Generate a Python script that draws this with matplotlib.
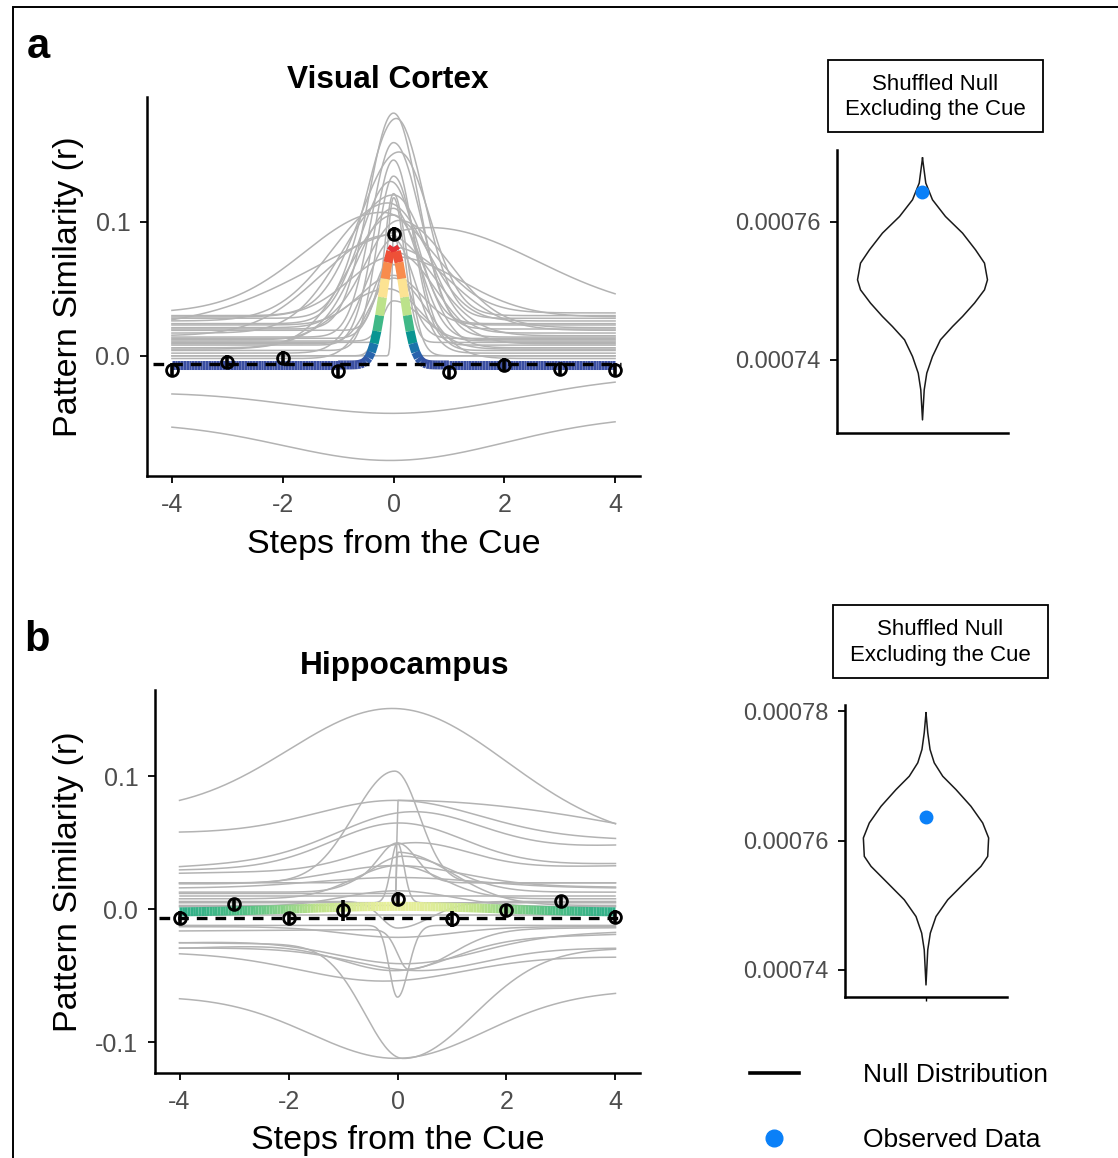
import numpy as np
import matplotlib
matplotlib.use("Agg")
import matplotlib.pyplot as plt
from matplotlib.collections import LineCollection
from matplotlib.colors import LinearSegmentedColormap, Normalize
from matplotlib.patches import Rectangle
from matplotlib.lines import Line2D
from matplotlib.ticker import FormatStrFormatter

plt.rcParams["font.family"] = ["Liberation Sans", "DejaVu Sans"]
plt.rcParams["axes.unicode_minus"] = False

# ---- data ----
steps = [-4, -3, -2, -1, 0, 1, 2, 3, 4]

vc_mean = [-0.0104, -0.0043, -0.0017, -0.0112, 0.0908, -0.0124, -0.0067, -0.0099, -0.0104]
vc_err = [0.005, 0.005, 0.005, 0.004, 0.005, 0.005, 0.005, 0.004, 0.005]
vc_null_level = -0.0062

hc_mean = [-0.0063, 0.0038, -0.0063, -0.0008, 0.0081, -0.0070, -0.0008, 0.0060, -0.0058]
hc_err = [0.005, 0.004, 0.004, 0.008, 0.005, 0.006, 0.004, 0.004, 0.005]
hc_null_level = -0.0063

# group fits: base, slope, amplitude, centre, width left, width right
vc_group_fit = [-0.0068, 0.0, 0.0878, 0.0, 0.19, 0.19]
hc_group_fit = [-0.0022, 0.0, 0.0045, 0.0, 1.8, 1.8]

# single-subject fits (same parameters)
vc_subject_fits = [
    [0.020, 0.0, 0.161, 0.00, 0.45, 0.45],
    [0.028, 0.0, 0.149, 0.05, 0.55, 0.50],
    [0.014, 0.0, 0.145, 0.00, 0.40, 0.50],
    [0.030, 0.0, 0.122, 0.10, 0.70, 0.55],
    [0.008, 0.0, 0.138, 0.00, 0.35, 0.35],
    [0.004, 0.0, 0.130, 0.00, 0.30, 0.40],
    [0.024, 0.0, 0.106, -0.05, 0.55, 0.45],
    [0.000, 0.0, 0.121, 0.00, 0.18, 0.25],
    [0.017, 0.0, 0.103, 0.00, 0.90, 0.60],
    [0.010, 0.0, 0.108, 0.00, 0.12, 0.20],
    [0.026, 0.0, 0.088, -0.10, 1.00, 0.70],
    [0.012, 0.0, 0.098, 0.00, 0.65, 0.45],
    [0.032, 0.0, 0.075, -0.20, 1.40, 0.90],
    [0.006, 0.0, 0.099, 0.00, 0.80, 0.55],
    [0.021, 0.0, 0.080, 0.10, 0.60, 0.90],
    [0.026, 0.001, 0.069, 0.60, 2.00, 2.00],
    [0.015, 0.0, 0.075, -0.10, 1.20, 0.80],
    [0.002, 0.0, 0.085, 0.00, 0.50, 0.40],
    [0.019, 0.0, 0.062, 0.00, 0.25, 1.00],
    [0.009, 0.0, 0.068, 0.05, 0.40, 0.70],
    [0.029, 0.0, 0.045, 0.00, 0.80, 1.20],
    [0.013, 0.0, 0.055, 0.00, 0.30, 0.30],
    [-0.002, 0.0, 0.060, 0.00, 0.45, 0.60],
    [0.023, 0.0, 0.037, 0.00, 0.60, 0.50],
    [0.005, 0.0, 0.045, -0.10, 0.90, 0.60],
    [0.011, 0.0, 0.030, 0.00, 0.20, 0.50],
    [0.000, 0.0, 0.093, 0.00, 0.03, 0.15],
    [-0.021, 0.00125, -0.022, 0.20, 2.00, 2.00],
    [-0.047, 0.0005, -0.031, 0.00, 2.00, 2.00],
]

hc_subject_fits = [
    [0.061, -0.0022, 0.090, 0.00, 2.00, 2.00],
    [0.020, 0.0, 0.084, -0.05, 0.75, 0.45],
    [0.012, 0.0, 0.070, 0.00, 0.01, 5.30],
    [0.055, -0.0006, 0.027, 0.00, 1.50, 1.50],
    [0.040, 0.002, 0.033, 0.20, 1.30, 1.30],
    [0.032, 0.0006, 0.033, 0.00, 1.20, 1.20],
    [0.030, 0.0007, 0.020, 0.30, 1.00, 1.00],
    [0.020, 0.0, 0.030, 0.00, 0.35, 0.35],
    [0.013, 0.0, 0.027, 0.10, 0.60, 0.90],
    [0.005, 0.0, 0.045, 0.00, 0.12, 0.12],
    [0.008, 0.0, 0.025, 0.00, 0.80, 0.80],
    [0.016, 0.0, 0.008, 0.00, 1.50, 1.50],
    [0.010, 0.0, 0.000, 0.00, 1.00, 1.00],
    [0.002, 0.0, 0.012, 0.00, 1.00, 1.00],
    [0.006, 0.0, -0.020, 0.00, 0.30, 0.60],
    [-0.021, 0.001, -0.020, 0.20, 1.30, 1.30],
    [-0.024, 0.0013, -0.022, 0.00, 1.00, 1.00],
    [-0.029, 0.0, -0.017, 0.40, 1.20, 1.20],
    [-0.034, -0.0004, -0.020, -0.30, 1.50, 1.50],
    [-0.012, 0.0, -0.054, 0.00, 0.15, 0.20],
    [-0.063, 0.0005, -0.049, 0.00, 1.60, 1.60],
    [-0.027, -0.0005, -0.085, 0.10, 0.70, 1.30],
    [-0.015, 0.0003, -0.030, 0.20, 0.20, 0.80],
    [0.003, 0.0, 0.040, 0.00, 0.02, 1.00],
    [-0.004, 0.0, 0.000, 0.00, 1.00, 1.00],
    [-0.013, 0.0, -0.008, 0.00, 1.00, 1.00],
    [0.018, -0.0003, 0.015, 0.00, 1.20, 1.20],
]

# shuffled null violins: value, half width (x units)
vc_null_y = [0.00076923, 0.00076561, 0.00076319, 0.00076077, 0.00075836, 0.00075594,
             0.00075401, 0.00075159, 0.00075014, 0.00074822, 0.00074628, 0.00074483,
             0.00074290, 0.00074048, 0.00073807, 0.00073565, 0.00073130]
vc_null_hw = [0.0, 0.023, 0.070, 0.161, 0.281, 0.372, 0.435, 0.456, 0.435, 0.365,
              0.281, 0.211, 0.126, 0.070, 0.030, 0.012, 0.0]
vc_observed = 0.0007643

hc_null_y = [0.00077980, 0.00077670, 0.00077411, 0.00077205, 0.00076997, 0.00076791,
             0.00076532, 0.00076274, 0.00076042, 0.00075757, 0.00075602, 0.00075344,
             0.00075085, 0.00074826, 0.00074569, 0.00074310, 0.00073767]
hc_null_hw = [0.0, 0.013, 0.030, 0.061, 0.124, 0.222, 0.333, 0.420, 0.464, 0.457,
              0.407, 0.284, 0.161, 0.074, 0.032, 0.013, 0.0]
hc_observed = 0.0007636

W, H = 1118, 1158
gray = "#B3B3B3"
blue = "#0A80F8"
tick_gray = "#4D4D4D"
fit_cmap = LinearSegmentedColormap.from_list(
    "fit", ["#3B4FA2", "#1F6DB1", "#069A8E", "#4DBE85", "#BEE38B",
            "#FCF5A4", "#FBA95B", "#F4663A", "#E32A33"])


def px_box(left, top, right, bottom):
    return [left / W, 1 - bottom / H, (right - left) / W, (bottom - top) / H]


def fit_curve(x, base, slope, amp, mu, wl, wr):
    w = np.where(x < mu, wl, wr)
    return base + slope * x + amp * np.exp(-(x - mu) ** 2 / (2 * w ** 2))


def style_axes(ax, ticksize):
    for side in ["top", "right"]:
        ax.spines[side].set_visible(False)
    for side in ["left", "bottom"]:
        ax.spines[side].set_linewidth(1.8)
    ax.tick_params(length=5, width=1.3, labelsize=ticksize, labelcolor=tick_gray, pad=7)


def trajectory_panel(ax, title, title_xy, means, errs, null_level, group_fit,
                     subject_fits, norm, yticks, ylim, null_span):
    xs = np.linspace(-4, 4, 400)
    for p in subject_fits:
        ax.plot(xs, fit_curve(xs, *p), color=gray, lw=1.1, zorder=1)
    xg = np.arange(-4, 4.0001, 0.05)
    yg = fit_curve(xg, *group_fit)
    pts = np.column_stack([xg, yg]).reshape(-1, 1, 2)
    segs = np.concatenate([pts[:-1], pts[1:]], axis=1)
    lc = LineCollection(segs, cmap=fit_cmap, norm=norm, linewidth=6.5,
                        capstyle="butt", zorder=2)
    lc.set_array((yg[:-1] + yg[1:]) / 2)
    ax.add_collection(lc)
    ax.axhline(null_level, xmin=null_span[0], xmax=null_span[1], color="black",
               lw=2.4, ls=(0, (3.2, 2.4)), zorder=3)
    ax.errorbar(steps, means, yerr=errs, fmt="o", mfc="none", mec="black", mew=2,
                ms=8.5, ecolor="black", elinewidth=2.6, capsize=0, zorder=4)
    ax.set_xlim(-4.45, 4.45)
    ax.set_ylim(*ylim)
    ax.set_xticks([-4, -2, 0, 2, 4])
    ax.set_yticks(yticks)
    ax.yaxis.set_major_formatter(FormatStrFormatter("%.1f"))
    style_axes(ax, 18)
    ax.set_xlabel("Steps from the Cue", fontsize=24.5, va="center")
    ax.set_ylabel("Pattern Similarity (r)", fontsize=24.5, va="center")
    ax.text(title_xy[0], title_xy[1], title, transform=ax.transAxes, ha="center",
            va="center", fontsize=22.8, fontweight="bold")


def null_panel(ax, ys, hws, observed, yticks, ylim):
    ys = np.array(ys)
    hws = np.array(hws)
    ax.plot(np.concatenate([1 - hws, (1 + hws)[::-1]]), np.concatenate([ys, ys[::-1]]),
            color="#1A1A1A", lw=1.1)
    ax.plot([1], [observed], "o", color=blue, ms=9, zorder=3)
    ax.set_xlim(0.4, 1.6)
    ax.set_ylim(*ylim)
    ax.set_yticks(yticks)
    ax.set_xticks([1])
    ax.set_xticklabels([""])
    ax.yaxis.set_major_formatter(FormatStrFormatter("%.5f"))
    style_axes(ax, 17)


def strip(fig, left, top, right, bottom):
    b = px_box(left, top, right, bottom)
    fig.add_artist(Rectangle((b[0], b[1]), b[2], b[3], transform=fig.transFigure,
                             fill=False, lw=1.3, ec="black"))
    fig.text(b[0] + b[2] / 2, b[1] + b[3] / 2 - 1 / H, "Shuffled Null\nExcluding the Cue",
             ha="center", va="center", fontsize=16, linespacing=1.3)


fig = plt.figure(figsize=(W / 100, H / 100), dpi=100)

# outer frame
fig.add_artist(Rectangle((12.5 / W, -0.05), 1.1, 1.05 - 7 / H, transform=fig.transFigure,
                         fill=False, lw=1.4, ec="black"))

ax_a = fig.add_axes(px_box(147, 97, 640, 476))
trajectory_panel(ax_a, "Visual Cortex", (0.489, 1.045), vc_mean, vc_err, vc_null_level,
                 vc_group_fit, vc_subject_fits, Normalize(-0.0068, 0.081),
                 [0.0, 0.1], (-0.0896, 0.193), (0.012, 0.962))
ax_a.xaxis.set_label_coords(0.5, -0.18)
ax_a.yaxis.set_label_coords(-0.16, 0.5)

ax_b = fig.add_axes(px_box(155, 690, 640, 1073))
trajectory_panel(ax_b, "Hippocampus", (0.514, 1.0635), hc_mean, hc_err, hc_null_level,
                 hc_group_fit, hc_subject_fits, Normalize(-0.0070, 0.0090),
                 [-0.1, 0.0, 0.1], (-0.123, 0.165), (0.008, 0.96))
ax_b.xaxis.set_label_coords(0.5, -0.177)
ax_b.yaxis.set_label_coords(-0.178, 0.5)

ax_va = fig.add_axes(px_box(837, 150, 1008, 433))
null_panel(ax_va, vc_null_y, vc_null_hw, vc_observed, [0.00074, 0.00076],
           (0.0007294, 0.0007704))
ax_va.tick_params(axis="x", length=0)

ax_vb = fig.add_axes(px_box(845, 705, 1007, 997))
null_panel(ax_vb, hc_null_y, hc_null_hw, hc_observed, [0.00074, 0.00076, 0.00078],
           (0.0007358, 0.000781))
ax_vb.tick_params(axis="x", length=3, width=1)

strip(fig, 828, 60, 1043, 132)
strip(fig, 833, 605, 1048, 678)

fig.text(38 / W, 1 - 47 / H, "a", fontsize=30, fontweight="bold", ha="center", va="center")
fig.text(37 / W, 1 - 640 / H, "b", fontsize=30, fontweight="bold", ha="center", va="center")

handles = [Line2D([], [], color="black", lw=2.6),
           Line2D([], [], ls="none", marker="o", color=blue, ms=12)]
fig.legend(handles, ["Null Distribution", "Observed Data"], loc="upper left",
           bbox_to_anchor=(750 / W, 1 - 1063 / H), frameon=False, fontsize=19,
           handlelength=1.85, handletextpad=2.45, labelspacing=1.55,
           borderpad=0, borderaxespad=0)

fig.savefig("out.png", dpi=100)
